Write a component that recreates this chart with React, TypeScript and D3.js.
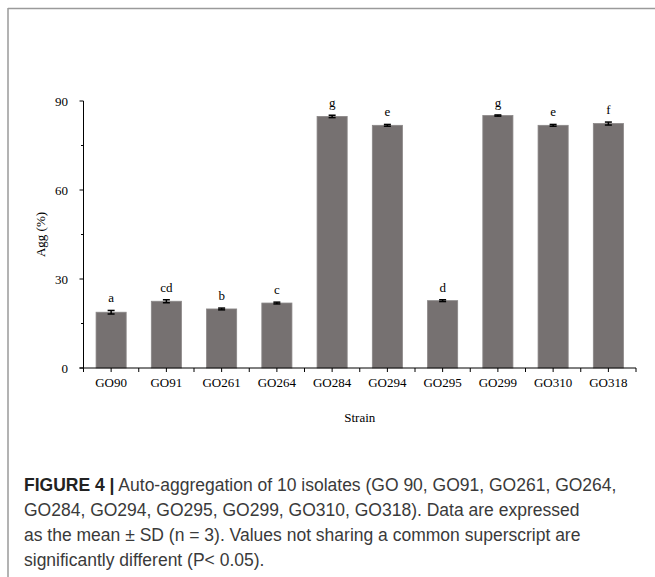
import React from "react";
import * as d3 from "d3";

const strains = ["GO90", "GO91", "GO261", "GO264", "GO284", "GO294", "GO295", "GO299", "GO310", "GO318"];
const aggValues = [18.8, 22.5, 19.9, 21.9, 84.8, 81.8, 22.7, 85.1, 81.8, 82.4];
const sdValues = [0.6, 0.5, 0.3, 0.3, 0.4, 0.3, 0.3, 0.2, 0.3, 0.5];
const letters = ["a", "cd", "b", "c", "g", "e", "d", "g", "e", "f"];
const yMajorTicks = [0, 30, 60, 90];
const yMinorTicks = [15, 45, 75];
const captionBold = "FIGURE 4 |";
const captionLines = [
  " Auto-aggregation of 10 isolates (GO 90, GO91, GO261, GO264,",
  "GO284, GO294, GO295, GO299, GO310, GO318). Data are expressed",
  "as the mean \u00b1 SD (n = 3). Values not sharing a common superscript are",
  "significantly different (P< 0.05).",
];

const W = 655;
const H = 577;
const left = 83.5;
const right = 636;
const top = 101;
const bottom = 368;
const serif = "'Liberation Serif', 'Times New Roman', serif";
const sans = "'Liberation Sans', Arial, sans-serif";

export default function App() {
  const x = d3.scaleBand<string>().domain(strains).range([left, right]).paddingInner(0.455).paddingOuter(0.2275);
  const band = d3.scaleBand<string>().domain(strains).range([left, right]).padding(0);
  const y = d3.scaleLinear().domain([0, 90]).range([bottom, top]);

  const boundaryTicks = strains.map((s) => band(s)!).concat([right]);
  const centerTicks = strains.map((s) => band(s)! + band.bandwidth() / 2);

  return (
    <div style={{ position: "absolute", left: 0, top: 0 }}>
      <svg width={W} height={H} style={{ display: "block", background: "#fff" }}>
        {/* frame */}
        <line x1={8} y1={8.5} x2={W} y2={8.5} stroke="#9a9a9a" strokeWidth={1.5} />
        <line x1={8} y1={8} x2={8} y2={H} stroke="#9a9a9a" strokeWidth={1.5} />

        {/* bars */}
        {strains.map((s, i) => (
          <rect
            key={s}
            x={x(s)}
            y={y(aggValues[i])}
            width={x.bandwidth()}
            height={y(0) - y(aggValues[i])}
            fill="#767171"
            stroke="#8a8787"
            strokeWidth={0.8}
          />
        ))}

        {/* error bars */}
        {strains.map((s, i) => {
          const cx = x(s)! + x.bandwidth() / 2;
          const y1 = y(aggValues[i] + sdValues[i]);
          const y2 = y(aggValues[i] - sdValues[i]);
          return (
            <g key={s} stroke="#000" strokeWidth={1.5}>
              <line x1={cx} x2={cx} y1={y1} y2={y2} />
              <line x1={cx - 3.5} x2={cx + 3.5} y1={y1} y2={y1} />
              <line x1={cx - 3.5} x2={cx + 3.5} y1={y2} y2={y2} />
            </g>
          );
        })}

        {/* significance letters */}
        {strains.map((s, i) => (
          <text
            key={s}
            x={x(s)! + x.bandwidth() / 2}
            y={y(aggValues[i] + sdValues[i]) - 8}
            textAnchor="middle"
            fontFamily={serif}
            fontSize={13}
            fill="#000"
          >
            {letters[i]}
          </text>
        ))}

        {/* y axis */}
        <line x1={left} x2={left} y1={top} y2={bottom} stroke="#000" strokeWidth={1} />
        {yMajorTicks.map((t) => (
          <g key={t}>
            <line x1={left - 4} x2={left} y1={y(t)} y2={y(t)} stroke="#000" strokeWidth={1} />
            <text x={68} y={y(t)} dy="0.35em" textAnchor="end" fontFamily={serif} fontSize={13} fill="#000">
              {t}
            </text>
          </g>
        ))}
        {yMinorTicks.map((t) => (
          <line key={t} x1={left - 2.5} x2={left} y1={y(t)} y2={y(t)} stroke="#000" strokeWidth={1} />
        ))}
        <text
          transform={`translate(45, ${(top + bottom) / 2}) rotate(-90)`}
          textAnchor="middle"
          fontFamily={serif}
          fontSize={13}
          fill="#000"
        >
          Agg (%)
        </text>

        {/* x axis */}
        <line x1={left - 4} x2={right} y1={bottom} y2={bottom} stroke="#000" strokeWidth={1} />
        {boundaryTicks.concat(centerTicks).map((t, i) => (
          <line key={i} x1={t} x2={t} y1={bottom} y2={bottom + 4} stroke="#000" strokeWidth={1} />
        ))}
        {strains.map((s) => (
          <text
            key={s}
            x={band(s)! + band.bandwidth() / 2}
            y={bottom + 19}
            textAnchor="middle"
            fontFamily={serif}
            fontSize={13}
            fill="#000"
          >
            {s}
          </text>
        ))}
        <text x={(left + right) / 2} y={422} textAnchor="middle" fontFamily={serif} fontSize={13} fill="#000">
          Strain
        </text>

        {/* caption */}
        {captionLines.map((line, i) => (
          <text key={i} x={24} y={491 + i * 25} fontFamily={sans} fontSize={17.5} fill="#3a3a3a">
            {i === 0 ? (
              <>
                <tspan fontWeight="bold" fill="#222">{captionBold}</tspan>
                <tspan>{line}</tspan>
              </>
            ) : (
              line
            )}
          </text>
        ))}
      </svg>
    </div>
  );
}
